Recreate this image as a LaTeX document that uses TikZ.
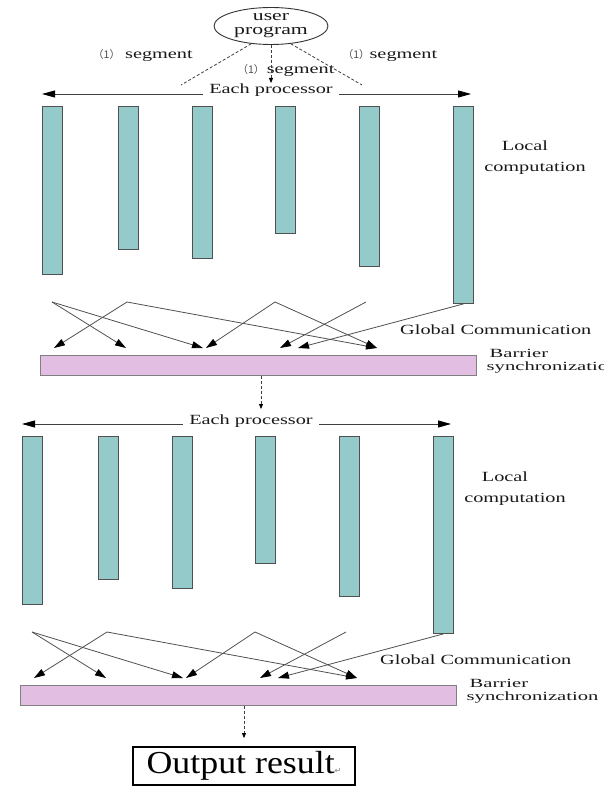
\documentclass[tikz,border=0pt]{standalone}
\usepackage{fontspec}
\setmainfont{Liberation Serif}
\newfontfamily\stf[FakeStretch=1.45]{Liberation Serif}
\newfontfamily\stfb[FakeStretch=1.65]{Liberation Serif}
\newfontfamily\outf[FakeStretch=1.12]{Liberation Serif}
\newfontfamily\cjkf{Noto Sans CJK SC}
\newfontfamily\symf{DejaVu Sans}
\usetikzlibrary{arrows.meta,shapes.geometric}
\definecolor{barteal}{RGB}{149,202,202}
\definecolor{barpink}{RGB}{226,190,226}
\definecolor{edgegray}{RGB}{80,80,80}
\definecolor{txt}{RGB}{25,25,25}
\begin{document}
\begin{tikzpicture}[x=1pt,y=-1pt,
  lbl/.style={font=\stf\fontsize{14}{16}\selectfont, text=txt, inner sep=1pt},
  blbl/.style={font=\stfb\fontsize{12.5}{13}\selectfont, text=txt, inner sep=0.5pt},
  procbar/.style={draw=edgegray, line width=0.9pt, fill=barteal, minimum width=20pt, anchor=north west, inner sep=0pt},
  barrier/.style={draw=gray, line width=0.9pt, fill=barpink, minimum width=436pt, minimum height=20pt, anchor=north west, inner sep=0pt},
  comm/.style={draw=edgegray, line width=0.8pt, -{Triangle[length=11pt,width=7pt,color=black]}},
  spanarrow/.style={draw=black!75, line width=0.8pt, -{Triangle[length=13pt,width=7pt,color=black]}},
  dashline/.style={draw=black!75, dash pattern=on 3pt off 2pt, line width=0.8pt},
  dashedarrow/.style={dashline, -{Triangle[length=5pt,width=4pt,color=black]}}
]
\useasboundingbox (0,0) rectangle (603,791);

% user program
\node[ellipse, draw=black!80, line width=0.9pt, minimum width=114pt, minimum height=37pt,
      inner sep=0pt, align=center, font=\stf\fontsize{15}{14}\selectfont, text=txt] (up) at (271,26) {user\\program};

\node[lbl] (segL) at (143,56) {{\cjkf\fontsize{10.5}{12}\selectfont\color{black!70}（1）} segment};
\node[lbl] (segM) at (286,71) {{\cjkf\fontsize{10.5}{12}\selectfont\color{black!70}（1）}\,segment};
\node[lbl] (segR) at (390,56) {{\cjkf\fontsize{10.5}{12}\selectfont\color{black!70}（1）}segment};

\coordinate (dL) at (181,85);
\coordinate (dM) at (271,83);
\coordinate (dR) at (362,85);
\draw[dashline] (up.222) -- (dL);
\draw[dashedarrow] (up.south) -- (dM);
\draw[dashline] (up.318) -- (dR);

\foreach \p/\dx/\dy in {A/0/0, B/-20/330} {
\begin{scope}[shift={(\dx,\dy)}]
  \node[lbl, anchor=base, inner sep=6pt] (\p ep) at (271,94) {Each processor};
  \coordinate (\p L) at (42,94);
  \coordinate (\p R) at (471,94);
  \draw[spanarrow] (\p ep.base west) -- (\p L);
  \draw[spanarrow] (\p ep.base east) -- (\p R);

  \node[procbar, minimum height=168pt] (\p b1) at (42,106) {};
  \node[procbar, minimum height=143pt] (\p b2) at (118,106) {};
  \node[procbar, minimum height=152pt] (\p b3) at (192,106) {};
  \node[procbar, minimum height=127pt] (\p b4) at (275,106) {};
  \node[procbar, minimum height=160pt] (\p b5) at (359,106) {};
  \node[procbar, minimum height=197pt] (\p b6) at (453,106) {};

  \node[lbl, anchor=base] (\p loc) at (525,151) {Local};
  \node[lbl, anchor=base] (\p cmp) at (535,172) {computation};

  \coordinate (\p s1) at (52,302);
  \coordinate (\p s2) at (127,302);
  \coordinate (\p s3) at (275,302);
  \coordinate (\p s4) at (366,302);
  \coordinate (\p t1) at (54,348);
  \coordinate (\p t2) at (126,348);
  \coordinate (\p t3) at (203,348);
  \coordinate (\p t4) at (206,348);
  \coordinate (\p t5) at (280,348);
  \coordinate (\p t6) at (298,348);
  \coordinate (\p t7) at (377,348);
  \draw[comm] (\p s2) -- (\p t1);
  \draw[comm] (\p s1) -- (\p t2);
  \draw[comm] (\p s1) -- (\p t3);
  \draw[comm] (\p s3) -- (\p t4);
  \draw[comm] (\p s4) -- (\p t5);
  \draw[comm] (\p b6.south) -- (\p t6);
  \draw[comm] (\p s2) -- (\p t7);
  \draw[comm] (\p s3) -- (\p t7);

  \node[lbl, anchor=base west] (\p gc) at (399,334) {Global Communication};
  \node[barrier] (\p bar) at (40,355) {};
  \node[blbl, anchor=base west] (\p bt) at (489,357) {Barrier};
  \node[blbl, anchor=base west] (\p st) at (486,370) {synchronization};
\end{scope}
}

\coordinate (m1) at (261,409);
\draw[dashedarrow] (Abar.south -| m1) -- (m1);

\node[draw=black, line width=1.8pt, minimum width=222pt, minimum height=38pt, inner sep=2pt,
      font=\outf\fontsize{32}{32}\selectfont, text=black] (out) at (244,766)
      {Output result{\symf\fontsize{8}{8}\selectfont\color{gray}↵}};
\draw[dashedarrow, shorten >=8pt] (Bbar.south -| out.north) -- (out.north);
\end{tikzpicture}
\end{document}
